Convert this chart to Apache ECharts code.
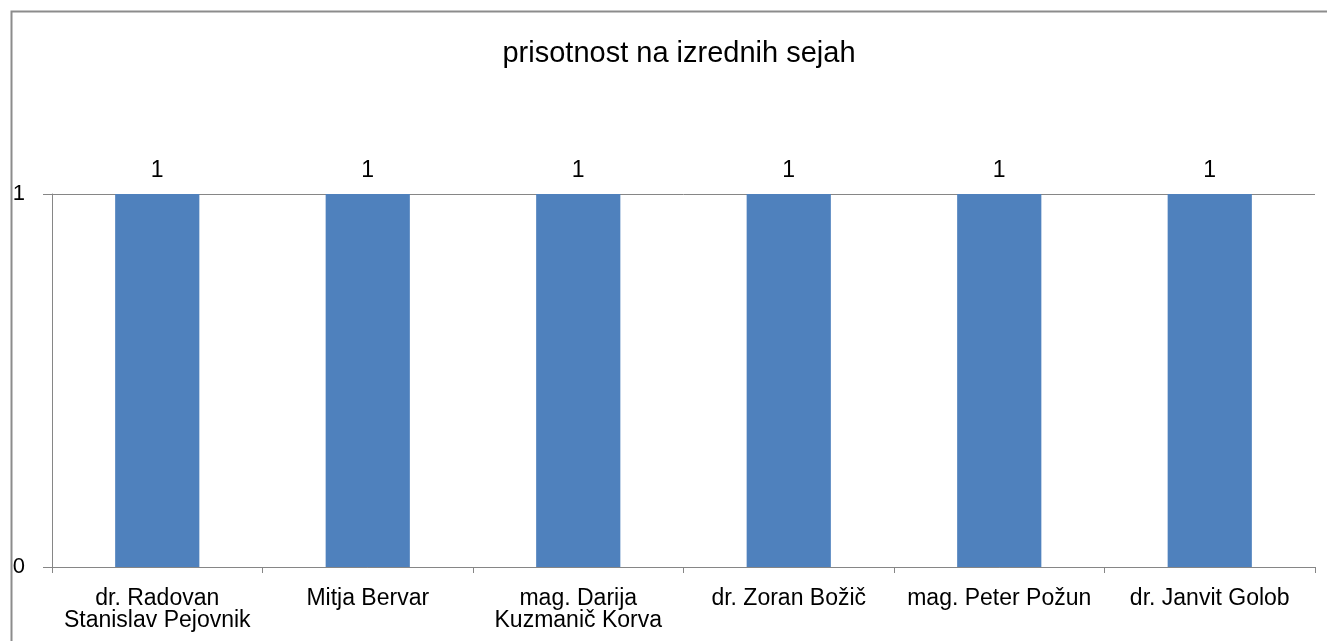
<!DOCTYPE html>
<html>
<head>
<meta charset="utf-8">
<script src="https://cdn.jsdelivr.net/npm/echarts@6/dist/echarts.min.js"></script>
<style>
html,body{margin:0;padding:0;background:#fff;}
#c{width:1327px;height:641px;}
</style>
</head>
<body>
<div id="c"></div>
<script>
const titleText = 'prisotnost na izrednih sejah';
const categories = [
  'dr. Radovan\nStanislav Pejovnik',
  'Mitja Bervar',
  'mag. Darija\nKuzmanič Korva',
  'dr. Zoran Božič',
  'mag. Peter Požun',
  'dr. Janvit Golob'
];
const values = [1, 1, 1, 1, 1, 1];
const yTicks = [0, 1];

const FONT = '"Liberation Sans", Arial, sans-serif';
const AXIS = '#868686';

const chart = echarts.init(document.getElementById('c'), null, {renderer: 'canvas'});
chart.setOption({
  backgroundColor: '#ffffff',
  animation: false,
  title: {
    text: titleText,
    left: 674,
    top: 34,
    textAlign: 'center',
    textStyle: {fontFamily: FONT, fontSize: 29, fontWeight: 'normal', color: '#000'}
  },
  graphic: [{
    type: 'rect',
    left: 9, top: 9,
    shape: {width: 1330, height: 640},
    style: {fill: 'none', stroke: '#8c8c8c', lineWidth: 2},
    silent: true
  }],
  grid: {left: 52, right: 12, top: 194, bottom: 74, containLabel: false},
  xAxis: {
    type: 'category',
    data: categories,
    boundaryGap: true,
    axisLine: {show: true, lineStyle: {color: AXIS, width: 1}},
    axisTick: {show: true, alignWithLabel: false, length: 6, lineStyle: {color: AXIS}},
    axisLabel: {
      interval: 0, margin: 21,
      fontFamily: FONT, fontSize: 23, color: '#000', lineHeight: 22, align: 'center'
    },
    splitLine: {show: false}
  },
  yAxis: {
    type: 'value',
    min: yTicks[0], max: yTicks[yTicks.length - 1], interval: 1,
    axisLine: {show: true, lineStyle: {color: AXIS, width: 1}},
    axisTick: {show: true, inside: false, length: 9, lineStyle: {color: AXIS}},
    axisLabel: {margin: 27, fontFamily: FONT, fontSize: 22, color: '#000'},
    splitLine: {show: true, lineStyle: {color: AXIS, width: 1}}
  },
  series: [{
    type: 'bar',
    data: values,
    barWidth: '40%',
    itemStyle: {color: '#4F81BD'},
    label: {
      show: true, position: 'top', distance: 12,
      fontFamily: FONT, fontSize: 23, color: '#000'
    }
  }]
});
</script>
</body>
</html>
